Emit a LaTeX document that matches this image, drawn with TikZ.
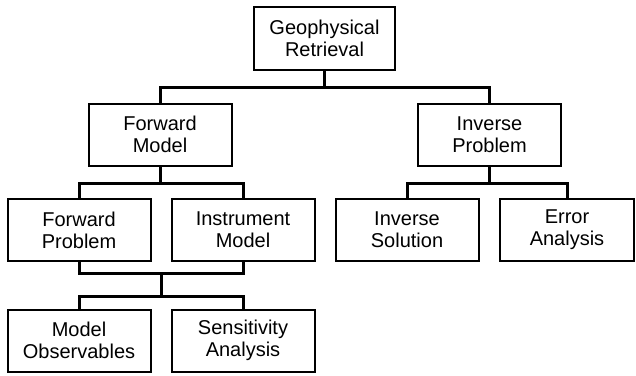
\documentclass[tikz,border=0pt]{standalone}
\usepackage{fontspec}
\setmainfont{Liberation Sans}
\usetikzlibrary{calc}
\begin{document}
\begin{tikzpicture}[x=1pt,y=1pt,
  box/.style={draw, line width=2pt, minimum width=143pt, minimum height=62pt, align=center, inner sep=0pt, font=\fontsize{20}{22}\selectfont},
  conn/.style={line width=3pt}]
\useasboundingbox (0,0) rectangle (636,-375);
\node[box, minimum width=141pt, minimum height=63pt] (gr) at (324.5,-38.5) {Geophysical\\Retrieval};
\node[box] (fm) at (160,-134.5) {Forward\\Model};
\node[box] (ip) at (489.5,-134.5) {Inverse\\Problem};
\node[box] (fp) at (79,-230) {Forward\\Problem};
\node[box] (im) at (243,-230) {Instrument\\Model};
\node[box] (is) at (407,-230) {Inverse\\Solution};
\node[box, minimum width=134pt] (ea) at (567,-230) {Error\\Analysis};
\node[box] (mo) at (79,-340.5) {Model\\Observables};
\node[box] (sa) at (243,-340.5) {Sensitivity\\Analysis};
\coordinate (l1) at (0,-87);
\coordinate (l2) at (0,-183);
\coordinate (l3) at (0,-273);
\coordinate (l4) at (0,-296);
\draw[conn] (gr.south) -- (gr.south |- l1);
\draw[conn] (fm.north) |- (ip.north |- l1) -- (ip.north);
\draw[conn] (fm.south) -- (fm.south |- l2);
\draw[conn] (fp.north) |- (im.north |- l2) -- (im.north);
\draw[conn] (ip.south) -- (ip.south |- l2);
\draw[conn] (is.north) |- (ea.north |- l2) -- (ea.north);
\draw[conn] (fp.south) |- (im.south |- l3) -- (im.south);
\coordinate (mid) at ($(fp.south)!0.5!(im.south)$);
\draw[conn] (mid |- l3) -- (mid |- l4);
\draw[conn] (mo.north) |- (sa.north |- l4) -- (sa.north);
\end{tikzpicture}
\end{document}
